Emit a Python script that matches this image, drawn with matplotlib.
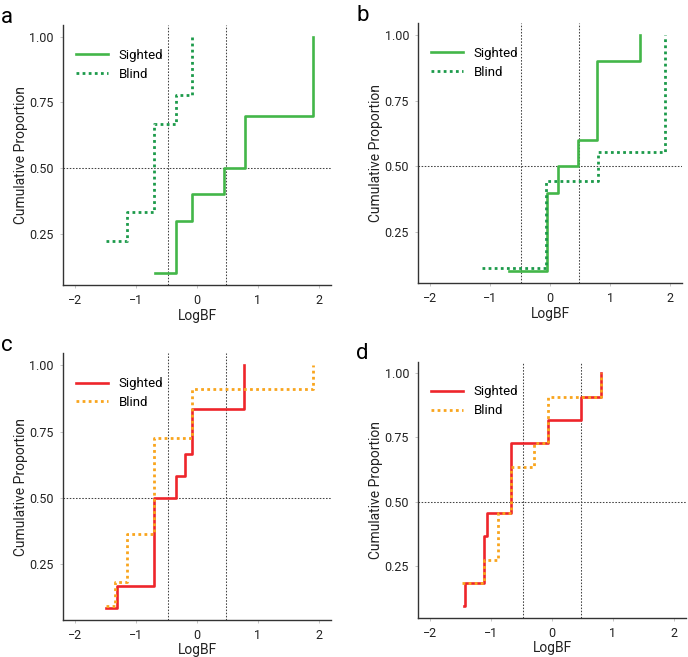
import matplotlib
matplotlib.use("Agg")
import matplotlib.pyplot as plt
import numpy as np
from matplotlib import font_manager

names = {f.name for f in font_manager.fontManager.ttflist}
base_font = "Liberation Sans Narrow" if "Liberation Sans Narrow" in names else "Roboto"
plt.rcParams["font.family"] = [base_font, "DejaVu Sans"]

# ECDF step points (LogBF value, cumulative proportion)
a_sighted_x = [-0.69, -0.34, -0.08, 0.45, 0.78, 1.91]
a_sighted_y = [0.1, 0.3, 0.4, 0.5, 0.7, 1.0]
a_blind_x = [-1.49, -1.15, -0.70, -0.34, -0.08]
a_blind_y = [2 / 9, 3 / 9, 6 / 9, 7 / 9, 1.0]

b_sighted_x = [-0.68, -0.06, 0.13, 0.46, 0.78, 1.50]
b_sighted_y = [0.1, 0.4, 0.5, 0.6, 0.9, 1.0]
b_blind_x = [-1.14, -0.07, 0.79, 1.92]
b_blind_y = [1 / 9, 4 / 9, 5 / 9, 1.0]

c_sighted_x = [-1.50, -1.31, -0.70, -0.35, -0.19, -0.09, 0.77]
c_sighted_y = [1 / 12, 2 / 12, 6 / 12, 7 / 12, 8 / 12, 10 / 12, 1.0]
c_blind_x = [-1.50, -1.34, -1.15, -0.71, -0.09, 1.91]
c_blind_y = [1 / 11, 2 / 11, 4 / 11, 8 / 11, 10 / 11, 1.0]

d_sighted_x = [-1.44, -1.43, -1.12, -1.06, -0.67, -0.07, 0.47, 0.80]
d_sighted_y = [1 / 11, 2 / 11, 4 / 11, 5 / 11, 8 / 11, 9 / 11, 10 / 11, 1.0]
d_blind_x = [-1.47, -1.12, -0.88, -0.67, -0.30, -0.07, 0.80]
d_blind_y = [2 / 11, 3 / 11, 5 / 11, 7 / 11, 8 / 11, 10 / 11, 1.0]

green_sighted = "#43b649"
green_blind = "#1c9a4a"
red_sighted = "#ee252b"
orange_blind = "#f9a51d"

panels = [
    ("a", [0.0916, 0.566, 0.3895, 0.396], a_sighted_x, a_sighted_y, a_blind_x, a_blind_y, green_sighted, green_blind),
    ("b", [0.6076, 0.569, 0.384, 0.396], b_sighted_x, b_sighted_y, b_blind_x, b_blind_y, green_sighted, green_blind),
    ("c", [0.0916, 0.0563, 0.3895, 0.406], c_sighted_x, c_sighted_y, c_blind_x, c_blind_y, red_sighted, orange_blind),
    ("d", [0.6076, 0.0594, 0.3895, 0.390], d_sighted_x, d_sighted_y, d_blind_x, d_blind_y, red_sighted, orange_blind),
]

crit = np.log10(3)
ref_style = dict(color="#444444", lw=0.75, ls=(0, (1.5, 1.5)), zorder=2)

fig = plt.figure(figsize=(6.88, 6.57), dpi=100)
for letter, rect, sx, sy, bx, by, c_s, c_b in panels:
    ax = fig.add_axes(rect)
    ax.step(sx, sy, where="post", color=c_s, lw=1.9, label="Sighted", zorder=3)
    ax.step(bx, by, where="post", color=c_b, lw=2.0, ls=(0, (1, 1.2)), label="Blind", zorder=3)
    ax.axvline(-crit, **ref_style)
    ax.axvline(crit, **ref_style)
    ax.axhline(0.5, **ref_style)
    ax.set_xlim(-2.2, 2.2)
    ax.set_xticks([-2, -1, 0, 1, 2])
    ax.set_xticklabels(["\u22122", "\u22121", "0", "1", "2"])
    ax.set_yticks([0.25, 0.5, 0.75, 1.0])
    ax.set_yticklabels(["0.25", "0.50", "0.75", "1.00"])
    ax.margins(y=0.05)
    for s in ["top", "right"]:
        ax.spines[s].set_visible(False)
    for s in ["left", "bottom"]:
        ax.spines[s].set_color("#333333")
        ax.spines[s].set_linewidth(1.0)
    ax.tick_params(labelsize=9, length=2.5, width=0.6, color="#bbbbbb", labelcolor="#222222", pad=4)
    ax.set_xlabel("LogBF", fontsize=10, color="#222222", labelpad=1)
    ax.set_ylabel("Cumulative Proportion", fontsize=10, color="#222222", labelpad=1)
    ax.legend(loc="upper left", frameon=False, fontsize=9.5, handlelength=2.4,
              bbox_to_anchor=(0.0, 0.96), borderaxespad=0.6, labelspacing=0.45)
    pos = ax.get_position()
    fig.text(pos.x0 - 0.09, pos.y1 + 0.012, letter, fontsize=16, ha="left", va="center")

fig.savefig("out.png", dpi=100)
